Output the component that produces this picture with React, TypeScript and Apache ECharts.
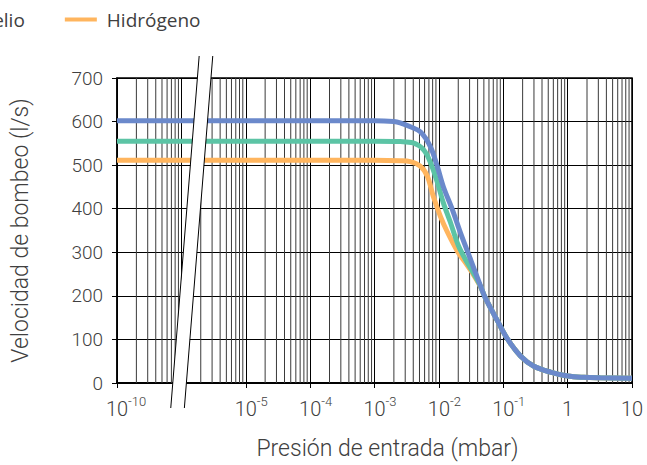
import React, { useEffect, useRef } from "react";
import * as echarts from "echarts";

// Pressures (mbar). Values below 1e-6 lie left of the axis break.
const nitrogenP = [1e-10, 1e-3, 2e-3, 2.5e-3, 3.6e-3, 5.2e-3, 7.4e-3, 9.5e-3, 1.17e-2, 1.62e-2, 2.16e-2, 3.1e-2, 4.4e-2, 5.2e-2, 8.1e-2, 0.116, 0.185, 0.295, 0.54, 1, 1.8, 3.2, 10];
const nitrogenS = [602, 602, 600, 597, 588, 576, 542, 496, 451, 398, 345, 284, 224, 197, 143, 101, 62, 39, 25, 16, 13, 12, 11];

const heliumP = [1e-10, 1e-3, 2.5e-3, 4.0e-3, 5.8e-3, 7.4e-3, 9.5e-3, 1.17e-2, 1.5e-2, 2.0e-2, 2.6e-2, 3.3e-2, 4.4e-2, 5.2e-2, 8.1e-2, 0.116, 0.185, 0.295, 0.54, 1, 1.8, 3.2, 10];
const heliumS = [555, 555, 554, 551, 535, 506, 460, 414, 370, 316, 283, 257, 223, 197, 143, 101, 62, 39, 25, 16, 13, 12, 11];

const hydrogenP = [1e-10, 1e-3, 2.5e-3, 3.6e-3, 5.2e-3, 6.65e-3, 8.2e-3, 1.06e-2, 1.36e-2, 1.95e-2, 2.6e-2, 3.3e-2, 4.4e-2, 5.2e-2, 8.1e-2, 0.116, 0.185, 0.295, 0.54, 1, 1.8, 3.2, 10];
const hydrogenS = [511, 511, 510, 508, 497, 474, 428, 382, 346, 302, 276, 253, 222, 197, 143, 101, 62, 39, 25, 16, 13, 12, 11];

const seriesNames = ["Nitrógeno", "Helio", "Hidrógeno"];
const seriesColors = ["#6b89cb", "#5cc4a5", "#ffb55e"];

// Axis decades as drawn (exponent of axis position) and their labels
const xTickExponents = [-7, -6, -5, -4, -3, -2, -1, 0, 1];
const xTickLabels = ["10^-10", "", "10^-5", "10^-4", "10^-3", "10^-2", "10^-1", "1", "10"];
const yTicks = [0, 100, 200, 300, 400, 500, 600, 700];

const BREAK_FACTOR = 1000; // 1e-10 .. 1e-9 drawn at 1e-7 .. 1e-6
const axisPos = (p: number) => (p < 1e-6 ? p * BREAK_FACTOR : p);

const FONT = "Roboto";
const TXT = "#404040";

export default function App() {
  const ref = useRef<HTMLDivElement>(null);
  useEffect(() => {
    if (!ref.current) return;
    document.body.style.margin = "0";
    const chart = echarts.init(ref.current, null, { renderer: "svg" });

    const minorLines: number[] = [];
    for (let e = xTickExponents[0]; e < xTickExponents[xTickExponents.length - 1]; e++) {
      for (let k = 2; k <= 9; k++) minorLines.push(k * Math.pow(10, e));
    }

    const mk = (name: string, color: string, P: number[], S: number[], z: number) => ({
      name,
      type: "line",
      data: P.map((p, i) => [axisPos(p), S[i]]),
      smooth: 0.35,
      showSymbol: false,
      symbol: "none",
      z,
      lineStyle: { color, width: 5 },
      itemStyle: { color },
    });

    const labelFor = (v: number) => {
      const e = Math.round(Math.log10(v));
      const idx = xTickExponents.indexOf(e);
      const lab = idx >= 0 ? xTickLabels[idx] : "";
      if (!lab) return "";
      const parts = lab.split("^");
      if (parts.length === 2) return `{pad|${parts[1]}}{b|${parts[0]}}{s|${parts[1]}}`;
      return `{b|${lab}}`;
    };

    const yMin = yTicks[0];
    const yMax = yTicks[yTicks.length - 1];

    chart.setOption({
      animation: false,
      backgroundColor: "#ffffff",
      textStyle: { fontFamily: FONT },
      legend: {
        data: seriesNames,
        left: -239,
        top: 5,
        itemGap: 40,
        itemWidth: 32,
        itemHeight: 4,
        icon: "rect",
        textStyle: { fontFamily: "Open Sans", fontSize: 19, color: TXT, padding: [0, 0, 0, 5] },
      },
      grid: { left: 117, right: 15, top: 78, bottom: 81, show: true, borderColor: "#000", borderWidth: 1.5, containLabel: false },
      xAxis: {
        type: "log",
        logBase: 10,
        min: Math.pow(10, xTickExponents[0]),
        max: Math.pow(10, xTickExponents[xTickExponents.length - 1]),
        name: "Presión de entrada (mbar)",
        nameLocation: "middle",
        nameGap: 54,
        nameTextStyle: { fontFamily: FONT, fontWeight: 300, fontSize: 23, color: TXT, padding: [0, 0, 0, 26] },
        axisLine: { show: true, lineStyle: { color: "#000", width: 2 } },
        axisTick: { show: true, length: 5, lineStyle: { color: "#000", width: 1 } },
        splitLine: { show: true, lineStyle: { color: "#000", width: 1 } },
        axisLabel: {
          margin: 12,
          formatter: labelFor,
          rich: {
            b: { fontFamily: FONT, fontWeight: 300, fontSize: 20, color: TXT, lineHeight: 24, verticalAlign: "bottom" },
            s: { fontFamily: FONT, fontWeight: 300, fontSize: 13, color: TXT, lineHeight: 13, verticalAlign: "top" },
            pad: { fontFamily: FONT, fontWeight: 300, fontSize: 13, color: "transparent", lineHeight: 13, verticalAlign: "top" },
          },
        },
      },
      yAxis: {
        type: "value",
        min: yMin,
        max: yMax,
        interval: 100,
        name: "Velocidad de bombeo (l/s)",
        nameLocation: "middle",
        nameGap: 85,
        nameRotate: 90,
        nameTextStyle: { fontFamily: FONT, fontWeight: 300, fontSize: 23, color: TXT },
        axisLine: { show: true, lineStyle: { color: "#000", width: 1.5 } },
        axisTick: { show: true, length: 5, lineStyle: { color: "#000" } },
        splitLine: { show: true, lineStyle: { color: "#000", width: 1 } },
        axisLabel: { margin: 14, fontFamily: FONT, fontWeight: 300, fontSize: 19, color: TXT },
      },
      series: [
        {
          name: "grid-minor",
          type: "custom",
          silent: true,
          z: 1,
          data: minorLines.map((v) => [v]),
          encode: { x: 0 },
          renderItem: (params: any, api: any) => {
            const v = api.value(0);
            const p1 = api.coord([v, yMin]);
            const p2 = api.coord([v, yMax]);
            return {
              type: "line",
              shape: { x1: p1[0], y1: p1[1], x2: p2[0], y2: p2[1] },
              style: { stroke: "#3a3a3a", lineWidth: 1 },
            };
          },
        },
        mk(seriesNames[0], seriesColors[0], nitrogenP, nitrogenS, 5),
        mk(seriesNames[1], seriesColors[1], heliumP, heliumS, 4),
        mk(seriesNames[2], seriesColors[2], hydrogenP, hydrogenS, 3),
      ],
    });

    // axis break decoration
    const breakCenterX = chart.convertToPixel({ xAxisIndex: 0 }, 1.45e-6) as number;
    const topY = 56;
    const botY = 408;
    const slant = 14.2;
    const halfGap = 6.8;
    const tl = [breakCenterX + slant - halfGap, topY];
    const tr = [breakCenterX + slant + halfGap, topY];
    const bl = [breakCenterX - slant - halfGap, botY];
    const br = [breakCenterX - slant + halfGap, botY];
    chart.setOption({
      graphic: [
        { type: "polygon", z: 100, shape: { points: [tl, tr, br, bl] }, style: { fill: "#fff", stroke: "none" } },
        { type: "line", z: 101, shape: { x1: tl[0], y1: tl[1], x2: bl[0], y2: bl[1] }, style: { stroke: "#000", lineWidth: 1 } },
        { type: "line", z: 101, shape: { x1: tr[0], y1: tr[1], x2: br[0], y2: br[1] }, style: { stroke: "#000", lineWidth: 1 } },
      ],
    });

    return () => chart.dispose();
  }, []);
  return <div ref={ref} style={{ width: 647, height: 465 }} />;
}
